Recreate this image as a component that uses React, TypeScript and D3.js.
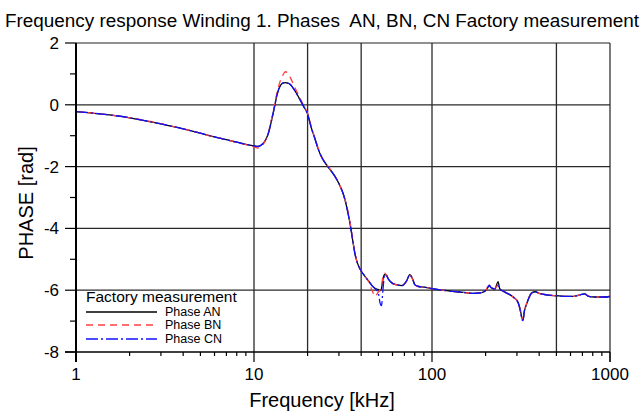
import React from 'react';
import * as d3 from 'd3';

// Frequency points (kHz) and phase readings (rad) for the three phases
const freqs = [1, 1.5, 2, 3, 4, 5, 6, 7, 8, 9, 10, 10.5, 11, 11.5, 12, 12.5, 13, 13.5, 14, 14.5, 15, 15.5, 16, 17, 18, 19, 20, 21, 22, 23, 24, 26, 28, 30, 32, 34, 35, 36, 37, 38, 40, 42, 44, 46, 48, 50, 51, 52, 53, 54, 55, 57, 60, 64, 68, 72, 75, 78, 80, 84, 90, 100, 115, 130, 150, 170, 190, 200, 205, 210, 215, 220, 225, 230, 235, 240, 245, 250, 260, 275, 290, 305, 315, 320, 325, 330, 340, 350, 365, 380, 400, 440, 500, 560, 620, 680, 720, 760, 820, 900, 960, 1000];

const phaseAN = [-0.22, -0.32, -0.42, -0.62, -0.78, -0.92, -1.04, -1.13, -1.21, -1.28, -1.33, -1.35, -1.3, -1.18, -0.95, -0.55, -0.1, 0.35, 0.6, 0.7, 0.72, 0.7, 0.66, 0.45, 0.2, -0.05, -0.3, -0.75, -1.1, -1.45, -1.7, -2.0, -2.25, -2.55, -2.95, -3.6, -4.0, -4.45, -4.85, -5.1, -5.38, -5.55, -5.7, -5.85, -5.95, -5.98, -6.02, -5.95, -5.65, -5.5, -5.5, -5.65, -5.78, -5.83, -5.85, -5.7, -5.5, -5.65, -5.82, -5.88, -5.9, -5.95, -6.0, -6.04, -6.07, -6.1, -6.08, -6.02, -5.93, -5.86, -5.92, -5.95, -5.98, -5.85, -5.72, -5.95, -6.0, -6.02, -6.08, -6.15, -6.25, -6.4, -6.7, -6.9, -6.95, -6.7, -6.45, -6.25, -6.08, -6.05, -6.1, -6.15, -6.18, -6.2, -6.2, -6.15, -6.12, -6.2, -6.22, -6.22, -6.22, -6.2];

const phaseBN = [-0.22, -0.32, -0.42, -0.61, -0.78, -0.92, -1.04, -1.13, -1.22, -1.29, -1.36, -1.4, -1.33, -1.2, -0.95, -0.5, -0.05, 0.42, 0.75, 0.95, 1.07, 1.02, 0.88, 0.55, 0.25, -0.02, -0.28, -0.72, -1.08, -1.42, -1.68, -1.98, -2.24, -2.55, -2.95, -3.55, -3.98, -4.42, -4.85, -5.1, -5.38, -5.55, -5.72, -6.0, -6.2, -6.05, -6.0, -5.9, -5.55, -5.45, -5.48, -5.65, -5.78, -5.83, -5.85, -5.7, -5.52, -5.66, -5.82, -5.88, -5.9, -5.95, -6.0, -6.04, -6.07, -6.1, -6.08, -6.02, -5.9, -5.84, -5.9, -5.95, -5.97, -5.88, -5.85, -5.95, -6.0, -6.02, -6.08, -6.15, -6.25, -6.4, -6.72, -6.92, -6.9, -6.7, -6.42, -6.24, -6.08, -6.05, -6.1, -6.15, -6.18, -6.2, -6.2, -6.15, -6.13, -6.2, -6.22, -6.22, -6.2, -6.18];

const phaseCN = [-0.22, -0.32, -0.42, -0.62, -0.78, -0.92, -1.04, -1.13, -1.21, -1.28, -1.33, -1.35, -1.3, -1.18, -0.95, -0.55, -0.1, 0.35, 0.6, 0.7, 0.72, 0.7, 0.66, 0.45, 0.2, -0.05, -0.3, -0.75, -1.1, -1.45, -1.7, -2.0, -2.25, -2.55, -2.95, -3.6, -4.0, -4.45, -4.85, -5.1, -5.38, -5.55, -5.7, -5.85, -5.95, -6.1, -6.4, -6.5, -6.0, -5.55, -5.5, -5.65, -5.78, -5.83, -5.85, -5.7, -5.5, -5.65, -5.82, -5.88, -5.9, -5.95, -6.0, -6.04, -6.07, -6.1, -6.08, -6.0, -5.92, -5.84, -5.92, -5.94, -5.96, -5.86, -5.85, -5.95, -6.0, -6.02, -6.08, -6.15, -6.25, -6.42, -6.72, -6.95, -6.98, -6.68, -6.45, -6.25, -6.08, -6.05, -6.1, -6.15, -6.18, -6.2, -6.2, -6.15, -6.12, -6.2, -6.22, -6.22, -6.22, -6.2];

const seriesNames = ['Phase AN', 'Phase BN', 'Phase CN'];
const seriesColors = ['#000000', '#ff4040', '#1010ff'];
const seriesDash = ['none', '7,5', '12,3,2,3'];

const yMajorTicks = [2, 0, -2, -4, -6, -8];
const yMinorTicks = [1, -1, -3, -5, -7];
const xMajorTicks = [1, 10, 100, 1000];
const xMinorTicks = [2, 3, 4, 5, 6, 7, 8, 9, 20, 30, 40, 50, 60, 70, 80, 90, 200, 300, 400, 500, 600, 700, 800, 900];
const xGrid = [10, 20, 40, 100, 500];
const yGrid = [0, -2, -4, -6];

const W = 643;
const H = 412;
const margin = { top: 43, right: 33, bottom: 60, left: 76 };
const font = '"Liberation Sans", Arial, sans-serif';

export default function App() {
  const x = d3.scaleLog().domain([1, 1000]).range([margin.left, W - margin.right]);
  const y = d3.scaleLinear().domain([-8, 2]).range([H - margin.bottom, margin.top]);
  const [x0, x1] = x.range();
  const [y0, y1] = y.range();

  const line = d3
    .line<number>()
    .x((_, i) => x(freqs[i]))
    .y((d) => y(d))
    .curve(d3.curveMonotoneX);

  const allSeries = [phaseAN, phaseBN, phaseCN];
  const legendY = [312, 325, 339];

  return (
    <svg
      width={W}
      height={H}
      style={{ position: 'absolute', left: 0, top: 0, background: '#fff' }}
      fontFamily={font}
    >
      <text x={322} y={27} textAnchor="middle" fontSize={17.5} textLength={634} lengthAdjust="spacingAndGlyphs">
        {'Frequency response Winding 1. Phases\u00a0 AN, BN, CN Factory measurement'}
      </text>

      {/* grid */}
      {xGrid.map((v) => (
        <line key={'gx' + v} x1={x(v)} x2={x(v)} y1={y1} y2={y0} stroke="#2a2a2a" strokeWidth={1.3} />
      ))}
      {yGrid.map((v) => (
        <line key={'gy' + v} x1={x0} x2={x1} y1={y(v)} y2={y(v)} stroke="#2a2a2a" strokeWidth={1.3} />
      ))}

      {/* frame */}
      <line x1={x0} x2={x1} y1={y1} y2={y1} stroke="#222" strokeWidth={1.2} />
      <line x1={x1} x2={x1} y1={y1} y2={y0 + 10} stroke="#222" strokeWidth={1.2} />

      {/* curves */}
      {allSeries.map((s, i) => (
        <path
          key={seriesNames[i]}
          d={line(s) || ''}
          fill="none"
          stroke={seriesColors[i]}
          strokeWidth={1.3}
          strokeDasharray={seriesDash[i]}
        />
      ))}

      {/* y axis */}
      <line x1={x0} x2={x0} y1={y1} y2={y0 + 10} stroke="#000" strokeWidth={2} />
      {yMajorTicks.map((v) => (
        <g key={'ym' + v}>
          <line x1={x0 - 11} x2={x0} y1={y(v)} y2={y(v)} stroke="#000" strokeWidth={1.2} />
          <text x={59} y={y(v)} dy="0.35em" textAnchor="end" fontSize={17}>
            {v}
          </text>
        </g>
      ))}
      {yMinorTicks.map((v) => (
        <line key={'yn' + v} x1={x0 - 6} x2={x0} y1={y(v)} y2={y(v)} stroke="#000" strokeWidth={1.2} />
      ))}

      {/* x axis */}
      <line x1={x0 - 11} x2={x1} y1={y0} y2={y0} stroke="#000" strokeWidth={1.5} />
      {xMajorTicks.map((v) => (
        <g key={'xm' + v}>
          <line x1={x(v)} x2={x(v)} y1={y0} y2={y0 + 10} stroke="#000" strokeWidth={1.2} />
          <text x={x(v)} y={380} textAnchor="middle" fontSize={17}>
            {v}
          </text>
        </g>
      ))}
      {xMinorTicks.map((v) => (
        <line key={'xn' + v} x1={x(v)} x2={x(v)} y1={y0} y2={y0 + 4} stroke="#000" strokeWidth={1.2} />
      ))}

      <text x={322} y={407} textAnchor="middle" fontSize={20}>
        Frequency [kHz]
      </text>
      <text transform="translate(33,203) rotate(-90)" textAnchor="middle" fontSize={20}>
        PHASE [rad]
      </text>

      {/* legend */}
      <text x={86} y={302} fontSize={15.5}>
        Factory measurement
      </text>
      {seriesNames.map((n, i) => (
        <g key={'lg' + n}>
          <line
            x1={86}
            x2={157}
            y1={legendY[i]}
            y2={legendY[i]}
            stroke={seriesColors[i]}
            strokeWidth={1.3}
            strokeDasharray={seriesDash[i]}
          />
          <text x={165} y={legendY[i]} dy="0.35em" fontSize={12.5}>
            {n}
          </text>
        </g>
      ))}
    </svg>
  );
}
